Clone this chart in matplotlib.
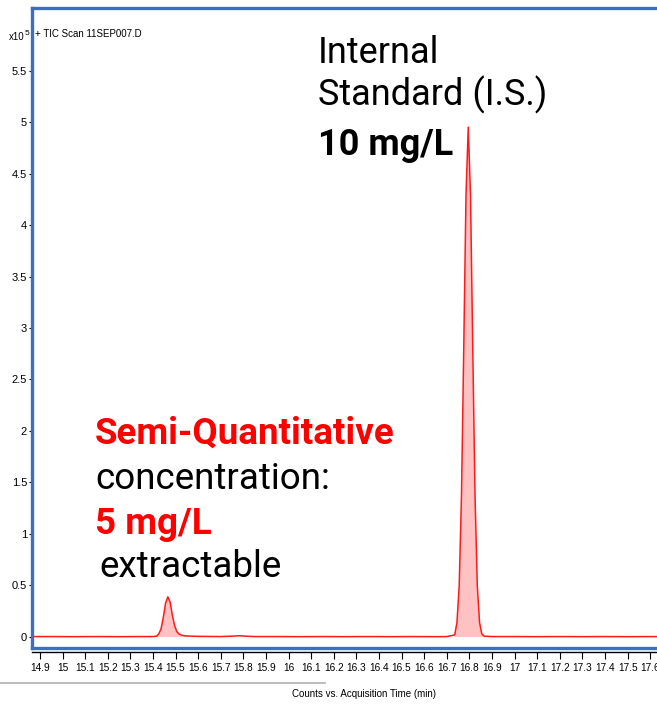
import numpy as np
import matplotlib.pyplot as plt
from matplotlib.lines import Line2D

# TIC chromatogram, counts in units of 1e5
time_min = [14.865, 14.95, 15.05, 15.15, 15.25, 15.35, 15.40,
            15.416, 15.426, 15.436, 15.446, 15.456, 15.466, 15.476,
            15.486, 15.496, 15.506, 15.516, 15.53, 15.55, 15.60,
            15.65, 15.70, 15.75, 15.78, 15.81, 15.85, 15.95, 16.05,
            16.15, 16.25, 16.35, 16.45, 16.55, 16.65, 16.70,
            16.735, 16.745, 16.755, 16.765, 16.775, 16.785, 16.795,
            16.805, 16.815, 16.825, 16.835, 16.845, 16.855, 16.865,
            16.90, 17.0, 17.1, 17.2, 17.3, 17.4, 17.5, 17.63]
counts = [0.004, 0.004, 0.003, 0.004, 0.003, 0.004, 0.004,
          0.008, 0.03, 0.08, 0.19, 0.33, 0.39, 0.34,
          0.21, 0.11, 0.05, 0.028, 0.016, 0.010, 0.006,
          0.005, 0.004, 0.008, 0.012, 0.008, 0.004, 0.004, 0.003,
          0.004, 0.003, 0.004, 0.003, 0.004, 0.003, 0.004,
          0.02, 0.14, 0.50, 1.37, 2.79, 4.29, 4.95,
          4.29, 2.79, 1.37, 0.50, 0.14, 0.03, 0.008,
          0.004, 0.004, 0.003, 0.004, 0.003, 0.004, 0.003, 0.004]
peak_windows = [(15.416, 15.55), (16.735, 16.865)]

xticks = [round(14.9 + 0.1 * i, 1) for i in range(28)]
xtick_labels = ['%g' % v for v in xticks]
yticks = [0, 0.5, 1, 1.5, 2, 2.5, 3, 3.5, 4, 4.5, 5, 5.5]
ytick_labels = ['%g' % v for v in yticks]

narrow = dict(family=['Liberation Sans', 'DejaVu Sans'])
ann = ['Roboto', 'DejaVu Sans']
blue = '#3b6ec4'

fig = plt.figure(figsize=(6.57, 7.05), dpi=100)
ax = fig.add_axes([32 / 657, 1 - 648 / 705, 1 - 32 / 657, 640 / 705])

t = np.array(time_min)
c = np.array(counts)
mask = np.zeros(len(t), dtype=bool)
for a, b in peak_windows:
    mask |= (t >= a) & (t <= b)
ax.fill_between(t, 0, c, where=mask, color='#ffc2c2', lw=0)
ax.plot(t, c, color='#ff1a1a', lw=1.1)

ax.set_xlim(14.865, 17.63)
ax.set_ylim(-0.107, 6.107)

for s in ['left', 'top', 'bottom']:
    ax.spines[s].set_color(blue)
    ax.spines[s].set_linewidth(2.4)
ax.spines['right'].set_visible(False)

ax.set_yticks(yticks)
ax.set_yticklabels(ytick_labels, fontsize=8, **narrow)
ax.tick_params(axis='y', length=2.5, width=0.8, pad=1, color='black')
ax.set_xticks([])

sec = ax.secondary_xaxis(-0.006)
sec.set_xticks(xticks)
sec.set_xticklabels(xtick_labels, fontsize=7.3, **narrow)
sec.tick_params(axis='x', length=5, width=0.8, pad=3)
sec.spines['bottom'].set_color('black')
sec.spines['bottom'].set_linewidth(1.0)

# header texts
fig.text(9 / 657, 1 - 40 / 705, 'x10', fontsize=7, **narrow)
fig.text(25 / 657, 1 - 35 / 705, '5', fontsize=6, **narrow)
fig.text(35 / 657, 1 - 37 / 705, '+ TIC Scan 11SEP007.D', fontsize=7, **narrow)

# x label and separator
fig.add_artist(Line2D([0, 325 / 657], [1 - 683 / 705] * 2, color='#b0b0b0', lw=1.2))
fig.text(364 / 657, 1 - 694 / 705, 'Counts vs. Acquisition Time (min)',
         fontsize=7, ha='center', va='center', **narrow)

# annotations (figure pixel coords, baseline)
def label(x, y, s, **kw):
    fig.text(x / 657, 1 - y / 705, s, family=ann, va='baseline', **kw)

label(318, 63, 'Internal', fontsize=26)
label(318, 105, 'Standard (I.S.)', fontsize=26)
label(318, 155, '10 mg/L', fontsize=26, weight='bold')

label(95, 444, 'Semi-Quantitative', fontsize=26.5, weight='bold', color='#ff0000')
label(95, 489, 'concentration:', fontsize=26.5)
label(95, 534, '5 mg/L', fontsize=26.5, weight='bold', color='#ff0000')
label(99, 577, 'extractable', fontsize=26.5)

fig.savefig('out.png', dpi=100)
